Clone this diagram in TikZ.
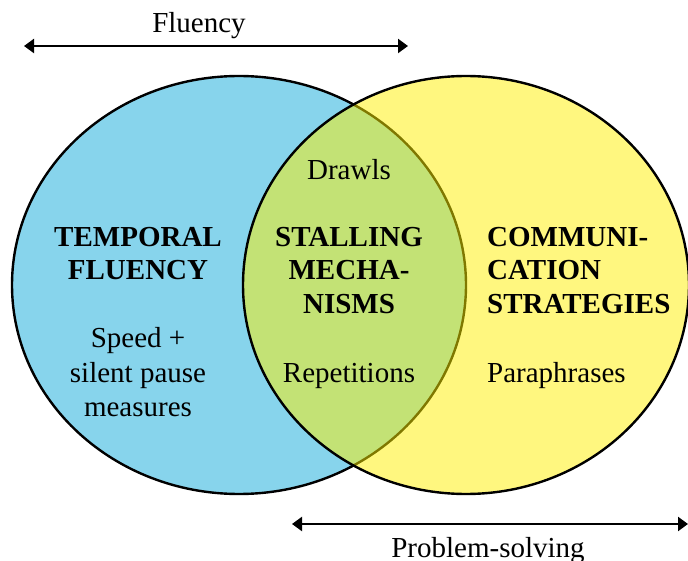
\documentclass[tikz,border=0pt]{standalone}
\usepackage{fontspec}
\setmainfont{Liberation Serif}
\usetikzlibrary{arrows.meta}
\definecolor{tfblue}{RGB}{135,212,236}
\definecolor{csyellow}{RGB}{255,240,0}
\begin{document}
\begin{tikzpicture}[x=1pt,y=-1pt,
  lbl/.style={font=\fontsize{29}{33}\selectfont, inner sep=0pt, anchor=base},
  lbll/.style={lbl, anchor=base west},
  hd/.style={lbl, font=\fontsize{29}{33}\selectfont\bfseries},
  hdl/.style={hd, anchor=base west},
  ring/.style={draw=black, line width=2.4pt},
  dbl/.style={line width=2.2pt, {Triangle[length=10pt,width=14pt]}-{Triangle[length=10pt,width=14pt]}}]
\useasboundingbox (0,0) rectangle (688,561);
\clip (0,0) rectangle (688,561);
\fill[white] (0,0) rectangle (688,561);
% circles
\path[ring, fill=tfblue] (239,285) ellipse [x radius=227, y radius=209];
\path[ring, fill=csyellow, fill opacity=0.5, draw opacity=1] (466,285) ellipse [x radius=223, y radius=209];
% arrows
\coordinate (fl) at (24,46);
\coordinate (fr) at (408,46);
\draw[dbl] (fl) -- (fr);
\node[lbl] (fluency) at (199,33) {Fluency};
\coordinate (pl) at (292,524);
\coordinate (pr) at (688,524);
\draw[dbl] (pl) -- (pr);
\node[lbl] (ps) at (488,557) {Problem-solving};
% left
\node[hd] (t1) at (138,247) {TEMPORAL};
\node[hd] (t2) at (138,280) {FLUENCY};
\node[lbl] (s1) at (138,348) {Speed +};
\node[lbl] (s2) at (138,382) {silent pause};
\node[lbl] (s3) at (138,416) {measures};
% middle
\node[lbl] (dr) at (349,180) {Drawls};
\node[hd] (m1) at (349,247) {STALLING};
\node[hd] (m2) at (349,280) {MECHA-};
\node[hd] (m3) at (349,314) {NISMS};
\node[lbl] (rp) at (349,382) {Repetitions};
% right
\node[hdl] (c1) at (487,247) {COMMUNI-};
\node[hdl] (c2) at (487,280) {CATION};
\node[hdl] (c3) at (487,314) {STRATEGIES};
\node[lbll] (pp) at (487,382) {Paraphrases};
\end{tikzpicture}
\end{document}
